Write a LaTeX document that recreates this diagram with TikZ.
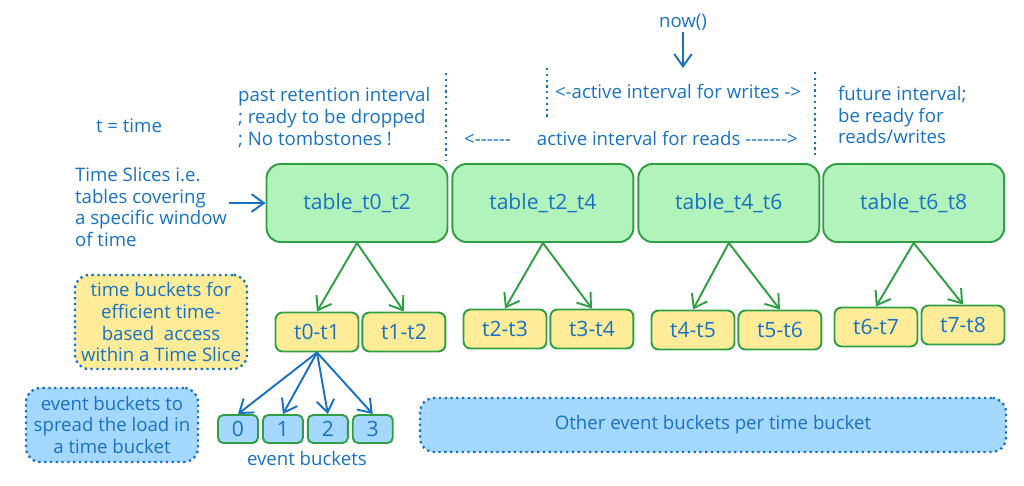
\documentclass[tikz,border=0pt]{standalone}
\usepackage{xcolor}
\usepackage{fontspec}
\setmainfont{Open Sans}[Ligatures=TeXOff]
\usepackage{tikz}
\usetikzlibrary{arrows.meta, positioning}
\definecolor{inkblue}{HTML}{1971C2}
\definecolor{inkgreen}{HTML}{2F9E44}
\definecolor{slicegreen}{HTML}{B2F2BB}
\definecolor{bucketyellow}{HTML}{FFEC99}
\definecolor{eventblue}{HTML}{A5D8FF}
\tikzstyle{slice} = [rectangle, draw=inkgreen, line width=1.1pt, fill=slicegreen, text=inkblue, font=\fontsize{12}{14}\selectfont, minimum width=3.62cm, minimum height=1.56cm, rounded corners=8pt]
\tikzstyle{tbucket} = [rectangle, draw=inkgreen, line width=1.1pt, fill=bucketyellow, text=inkblue, font=\fontsize{12}{14}\selectfont, minimum width=1.66cm, minimum height=0.78cm, rounded corners=4pt]
\tikzstyle{ebucket} = [rectangle, draw=inkgreen, line width=1.1pt, fill=eventblue, text=inkblue, font=\fontsize{12}{14}\selectfont, minimum width=0.8cm, minimum height=0.56cm, rounded corners=3pt]
\tikzstyle{note} = [rectangle, draw=inkblue, dotted, line width=1.3pt, text=inkblue, align=center, rounded corners=8pt]
\tikzstyle{txt} = [text=inkblue, align=left, inner sep=1pt]
\tikzstyle{arrow} = [line width=1.1pt, -{Straight Barb[length=7pt,width=10pt]}]
\tikzstyle{sep} = [inkblue, dotted, line width=1.3pt]

\begin{document}
\begin{tikzpicture}[x=0.02cm, y=-0.02cm, font=\fontsize{10.6}{12.5}\selectfont]
    \useasboundingbox (0,0) rectangle (1024,486);

    % time slices
    \node (tbl02) [slice] at (357,203) {table\_t0\_t2};
    \node (tbl24) [slice, right=0.06cm of tbl02] {table\_t2\_t4};
    \node (tbl46) [slice, right=0.06cm of tbl24] {table\_t4\_t6};
    \node (tbl68) [slice, right=0.04cm of tbl46] {table\_t6\_t8};

    % time buckets
    \node (b01) [tbucket] at (317,332) {t0-t1};
    \node (b12) [tbucket, right=0.04cm of b01] {t1-t2};
    \node (b23) [tbucket] at (505,329) {t2-t3};
    \node (b34) [tbucket, right=0.04cm of b23] {t3-t4};
    \node (b45) [tbucket] at (693,330) {t4-t5};
    \node (b56) [tbucket, right=0.04cm of b45] {t5-t6};
    \node (b67) [tbucket] at (876,327) {t6-t7};
    \node (b78) [tbucket] at (963,325) {t7-t8};

    % event buckets
    \node (e0) [ebucket] at (238,429) {0};
    \node (e1) [ebucket, right=0.06cm of e0] {1};
    \node (e2) [ebucket, right=0.06cm of e1] {2};
    \node (e3) [ebucket, right=0.06cm of e2] {3};
    \node (elabel) [txt, below=0.1cm of e2.south west] {event buckets};

    % notes
    \node (tnote) [note, fill=bucketyellow, minimum width=3.44cm, minimum height=1.88cm] at (161,322) {time buckets for\\efficient time-\\based\ \ access\\within a Time Slice};
    \node (enote) [note, fill=eventblue, minimum width=3.44cm, minimum height=1.48cm] at (112,425) {event buckets to\\spread the load in\\a time bucket};
    \node (other) [note, fill=eventblue, minimum width=11.72cm, minimum height=1.08cm] at (713,425) {Other event buckets per time bucket};

    % labels
    \node (tdef) [txt] at (129,126) {t = time};
    \node (slices) [txt, anchor=west] at (73,207) {Time Slices i.e.\\tables covering\\a specific window\\of time};
    \node (past) [txt, anchor=west] at (236,118) {past retention interval\\; ready to be dropped\\; No tombstones !};
    \node (future) [txt, anchor=west] at (836,115) {future interval;\\be ready for\\reads/writes};
    \node (writes) [txt] at (678,91) {<-active interval for writes ->};
    \node (reads) [txt] at (631,138) {<------\hspace{1.4em}active interval for reads ------->};
    \node (now) [txt] at (683,22) {now()};
    \coordinate (nowtip) at (683,68);

    % interval borders
    \draw [sep] (446,73) -- (446,160);
    \draw [sep] (547,68) -- (547,120);
    \draw [sep] (815,72) -- (815,158);

    \draw [arrow, inkblue] (now) -- (nowtip);
    \draw [arrow, inkblue] (slices.east |- tbl02.west) -- (tbl02.west);

    \foreach \s/\l/\r in {tbl02/b01/b12, tbl24/b23/b34, tbl46/b45/b56, tbl68/b67/b78} {
        \draw [arrow, inkgreen] (\s.south) -- (\l.north);
        \draw [arrow, inkgreen] (\s.south) -- (\r.north);
    }
    \foreach \e in {e0, e1, e2, e3}
        \draw [arrow, inkblue] (b01.south) -- (\e.north);
\end{tikzpicture}
\end{document}
